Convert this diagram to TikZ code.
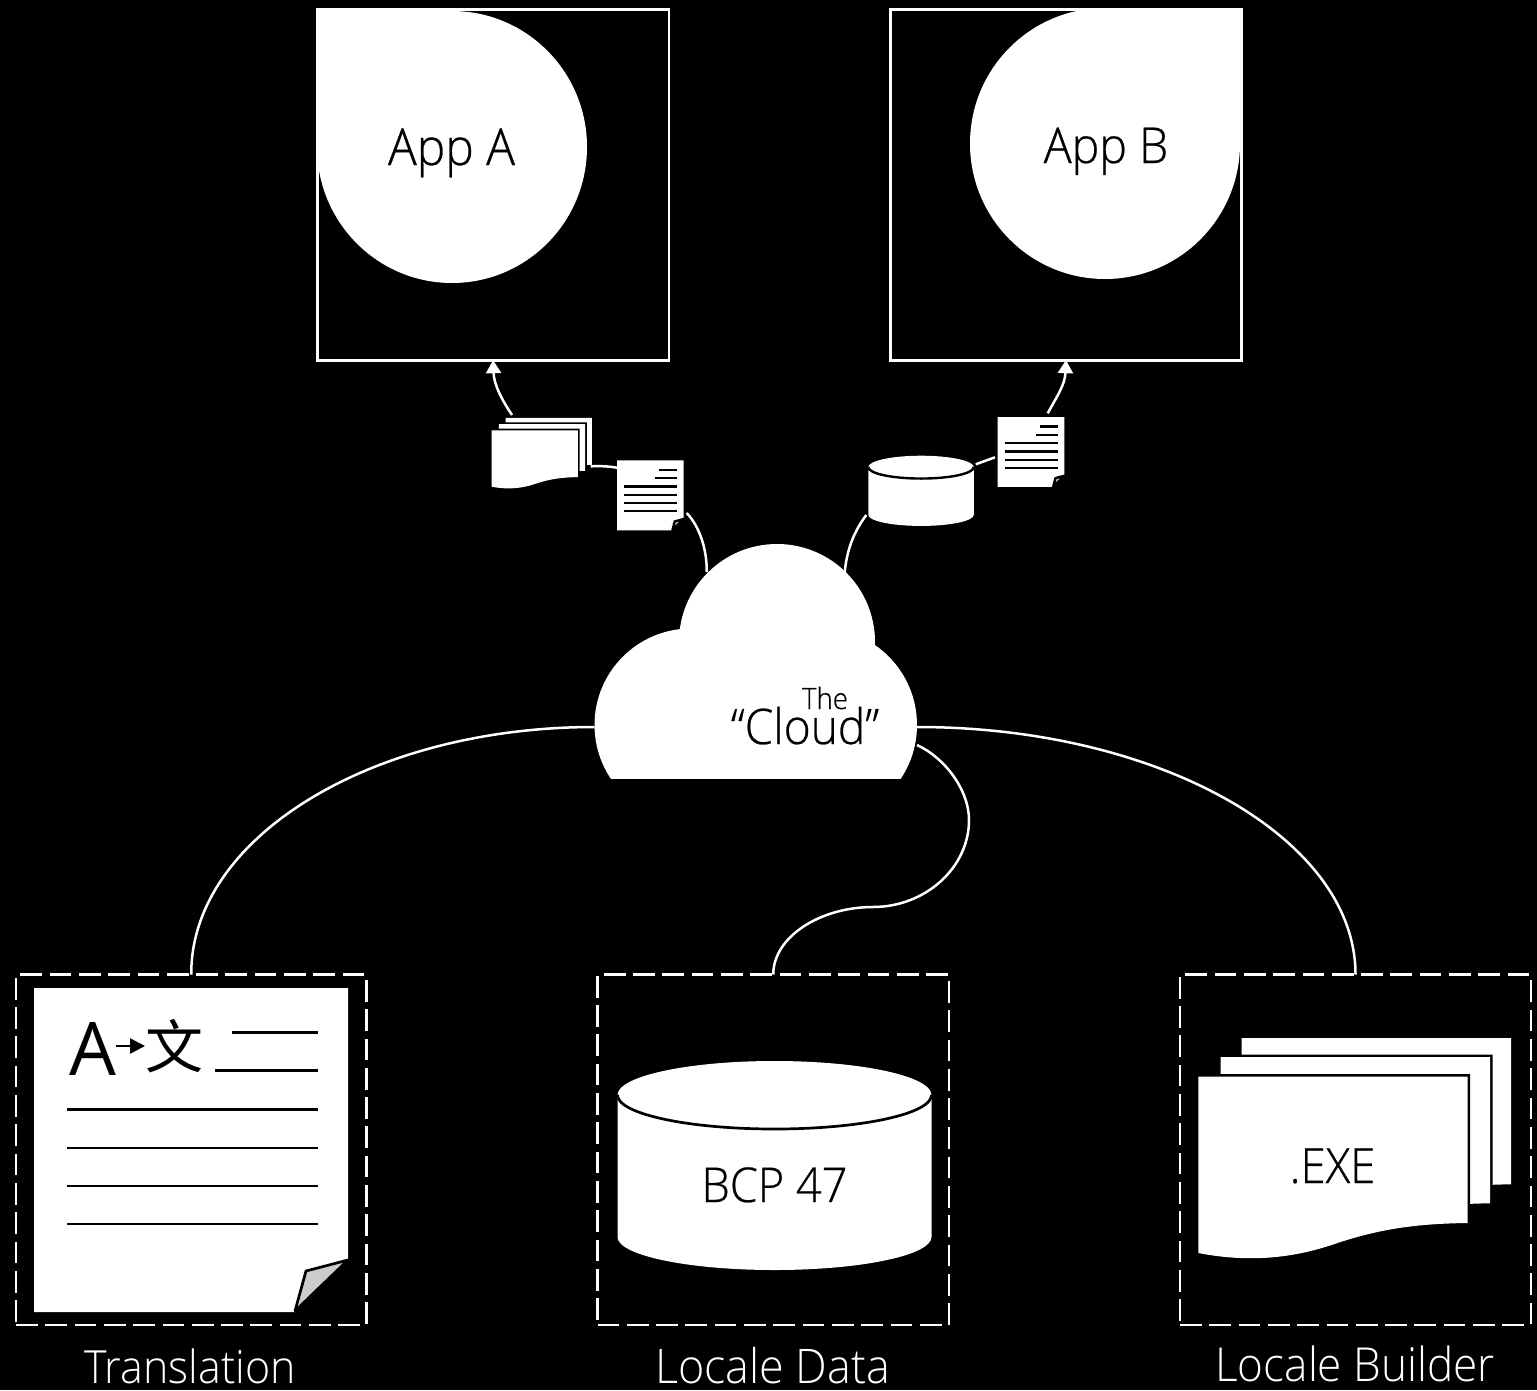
\documentclass[tikz,border=0pt]{standalone}
\usepackage{fontspec}
\setmainfont[FakeStretch=0.94]{Open Sans Light}
\newfontfamily\inkfont[FakeStretch=0.94,FakeBold=0.5]{Open Sans Light}
\newfontfamily\glyphfont{Open Sans}
\newfontfamily\cjkfont{Noto Sans CJK SC}
\usetikzlibrary{arrows.meta,fit,calc}
\definecolor{foldgray}{RGB}{204,204,204}
\newcommand\fsz[1]{\fontsize{#1}{#1}\selectfont}
\newcommand\docicon[5]{%
\begin{scope}[shift={(#1,#2)},xscale=#3,yscale=#4]
  \fill[white] (0,0)--(314,0)--(314,272)--(261,324)--(0,324)--cycle;
  \filldraw[fill=foldgray,draw=black,line width=#5,line join=round] (261,323)--(272,283)--(314,272)--cycle;
  \foreach \yy/\xx in {44.7/198,82.7/181,121.3/33,160/33,198/33,236/33}
    \draw[black,line width=#5] (\xx,\yy)--(284,\yy);
\end{scope}}
\newcommand\sheetpath{(0,0)--(269.4,0)--(269.4,146.3) .. controls (215,147) and (180,153) .. (140,166) .. controls (95,182) and (50,186) .. (0,176.3)--cycle}
\newcommand\stackicon[4]{%
\begin{scope}[shift={(#1,#2)},scale=#3]
  \foreach \dx/\dy in {43.4/-38.7,22.4/-19.7,0/0}{
    \begin{scope}[shift={(\dx,\dy)}]
      \draw[black,line width=#4,line join=miter] \sheetpath;
      \fill[white] \sheetpath;
    \end{scope}}
\end{scope}}
\newcommand\cylicon[4]{%
\begin{scope}[shift={(#1,#2)},scale=#3]
  \fill[white] (0,34) .. controls (0,15.2) and (70.3,0) .. (157,0) .. controls (243.7,0) and (314,15.2) .. (314,34)
     -- (314,176) .. controls (314,194.2) and (243.7,209) .. (157,209) .. controls (70.3,209) and (0,194.2) .. (0,176) -- cycle;
  \draw[black,line width=#4] (0,34) .. controls (0,52.8) and (70.3,68) .. (157,68) .. controls (243.7,68) and (314,52.8) .. (314,34);
\end{scope}}
\tikzset{
  x=1pt,y=-1pt,
  conn/.style={draw=white,line width=2.5pt,line cap=butt},
  connarrow/.style={conn,-{Triangle[length=13pt,width=15pt,fill=white]}},
  appbox/.style={draw=white,line width=2.6pt,inner sep=0pt,outer sep=0pt},
  dashbox/.style={draw=white,line width=2.7pt,dash pattern=on 21.7pt off 7.6pt,inner sep=0pt,outer sep=0pt},
  iconbox/.style={inner sep=0pt,outer sep=0pt},
  lbl/.style={anchor=base,inner sep=0pt,text=white},
  ink/.style={anchor=base,inner sep=0pt,text=black},
}
\begin{document}
\begin{tikzpicture}
\useasboundingbox (0,0) rectangle (1537,1390);
\fill[black] (0,0) rectangle (1537,1390);

% App A
\begin{scope}
  \clip (317.3,9.7) rectangle (668.8,360.2);
  \fill[white] (317.3,9.7) rectangle (452,147);
  \fill[white] (452,147) ellipse [x radius=135,y radius=136];
\end{scope}
\node[appbox,fit={(317.3,9.7)(668.8,360.2)}] (appa) {};
\node[ink,font=\inkfont\fsz{51}] (appalabel) at (451.5,165) {App A};

% App B
\begin{scope}
  \clip (890.7,8) rectangle (1243,360.2);
  \fill[white] (1105,8.5) rectangle (1243,143.5);
  \fill[white] (1105,143.5) ellipse [x radius=135,y radius=135.5];
\end{scope}
\node[appbox,fit={(890.7,9.7)(1241.3,360.2)}] (appb) {};
\node[ink,font=\inkfont\fsz{49.5}] (appblabel) at (1106,163) {App B};

% Cloud
\begin{scope}
  \clip (580,530) rectangle (930,778);
  \fill[white] (777,642) circle [radius=98];
  \fill[white] (691,725) circle [radius=96.5];
  \fill[white] (820,725) circle [radius=97];
\end{scope}
\node[iconbox,fit={(594.5,544)(917,778)}] (cloud) {};
\node[ink,font=\inkfont\fsz{29.4}] (thelabel) at (825,709) {The};
\node[ink,font=\inkfont\fsz{49}] (cloudlabel) at (805,744) {“Cloud”};

% Small icons
\stackicon{491.7}{430.3}{0.32}{3.4pt}
\node[iconbox,fit={(491.7,417.7)(591.7,487)}] (smallstack) {};
\docicon{617}{460.3}{0.2124}{0.216}{2.4pt}
\node[iconbox,fit={(617,460.3)(683.7,530.3)}] (doca) {};
\cylicon{868.3}{455.7}{0.336}{2.4pt}
\node[iconbox,fit={(868.3,455.7)(974,525.7)}] (smallcyl) {};
\docicon{997.7}{417}{0.2124}{0.216}{2.4pt}
\node[iconbox,fit={(997.7,417)(1064.7,487)}] (docb) {};

% Dashed boxes
\node[dashbox,fit={(16,974.5)(366.5,1325)}] (transbox) {};
\node[dashbox,fit={(597.5,974.5)(949,1325)}] (databox) {};
\node[dashbox,fit={(1180,974.5)(1531,1325)}] (exebox) {};

% Translation page
\docicon{34}{988}{1}{1}{2.7pt}
\node[iconbox,anchor=base,text=black,font=\glyphfont\fsz{74}] (glyphA) at (93,1075) {A};
\node[iconbox,text=black,font=\cjkfont\fsz{58}] (glyphW) at (174,1046) {文};
\draw[black,line width=2.5pt,-{Triangle[length=15pt,width=15pt]}] (glyphA.east |- glyphW.center) -- (glyphW.west);

% Cylinder and stack
\cylicon{617.5}{1061}{1}{2.7pt}
\node[iconbox,fit={(617.5,1061)(931.5,1270)}] (bigcyl) {};
\node[ink,font=\inkfont\fsz{48}] (bcplabel) at (774.5,1202) {BCP 47};
\stackicon{1198.3}{1076.7}{1}{5pt}
\node[iconbox,fit={(1198.3,1038)(1511.7,1260)}] (bigstack) {};
\node[ink,font=\inkfont\fsz{48.5}] (exelabel) at (1332.5,1183) {.EXE};

% Captions
\node[lbl,font=\fsz{45.7}] (translabel) at (190,1383) {Translation};
\node[lbl,font=\fsz{47.7}] (datalabel) at (772.5,1383) {Locale Data};
\node[lbl,font=\fsz{46.9}] (builderlabel) at (1355,1381) {Locale Builder};

% Connectors
\draw[conn] ([yshift=-66pt]cloud.west) .. controls (371,727) and (190.5,838) .. (transbox.north);
\draw[conn] ([yshift=-66pt]cloud.east) .. controls (1159,727) and (1355.5,838) .. (exebox.north);
\draw[conn] ([yshift=-84pt]cloud.east) .. controls (945,758) and (969,790) .. (969,820) .. controls (969,868) and (925,907) .. (873,907) .. controls (820,907) and (773.2,937) .. (databox.north);
\draw[conn] ([xshift=3pt,yshift=17.3pt]doca.south east) .. controls (700,527) and (707,550) .. ([xshift=-49pt,yshift=-28pt]cloud.north);
\draw[conn] ([yshift=-7.4pt]doca.north west) .. controls (607,466) and (599,466) .. ([xshift=-1pt,yshift=-48.6pt]smallstack.north east);
\draw[connarrow] ([xshift=-29.7pt,yshift=2.7pt]smallstack.north) .. controls (502,400) and (494,385) .. (appa.south);
\draw[conn] ([xshift=89pt,yshift=-28pt]cloud.north) .. controls (847,548) and (855,530) .. ([xshift=-2pt,yshift=10.7pt]smallcyl.south west);
\draw[conn] ([xshift=1.7pt,yshift=-8.6pt]smallcyl.north east) -- ([xshift=-2.7pt,yshift=-40.3pt]docb.north west);
\draw[connarrow] ([xshift=16.5pt,yshift=3.7pt]docb.north) .. controls (1056,398) and (1065,385) .. (appb.south);
\end{tikzpicture}
\end{document}
